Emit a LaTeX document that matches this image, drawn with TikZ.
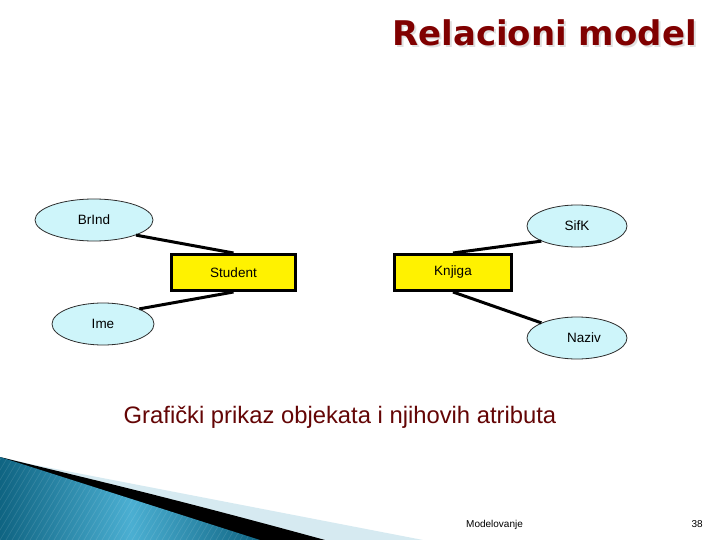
\documentclass[tikz,border=0pt]{standalone}
\usepackage{fontspec}
\setmainfont{Liberation Sans}
\newfontfamily\titlefont{DejaVu Sans}
\usetikzlibrary{shapes.geometric}
\definecolor{titlered}{RGB}{128,0,0}
\definecolor{capred}{RGB}{100,5,5}
\definecolor{ellfill}{RGB}{206,245,250}
\definecolor{ellline}{RGB}{45,45,45}
\definecolor{tealdark}{RGB}{15,100,130}
\definecolor{teallight}{RGB}{75,175,210}
\definecolor{bandblue}{RGB}{214,234,241}
\newcommand{\senka}[1]{\rlap{\kern2pt\raisebox{-2pt}{\color{black!12}#1}}#1}
\tikzset{
  attr/.style={ellipse, draw=ellline, line width=0.8pt, fill=ellfill, inner sep=0pt, minimum height=42pt, font=\fontsize{13.5}{15}\selectfont},
  entity/.style={rectangle, draw=black, line width=3pt, fill=yellow, inner sep=0pt, minimum width=122pt, minimum height=36pt, font=\fontsize{13.5}{15}\selectfont},
  link/.style={line width=3pt, black}
}

\begin{document}
\begin{tikzpicture}[x=1pt, y=-1pt]
			%%%%% START %%%%%
			\useasboundingbox[fill=white] (0, 0) rectangle (720, 540);
			
			% naslov sa senkom
			\node (naslov)[anchor=base west, inner sep=0pt, text=titlered, font=\titlefont\bfseries\fontsize{34}{38}\selectfont] at (392, 46) {\senka{Relacioni model}};
			
			% entiteti
			\node (student)[entity, minimum width=124pt] at (233.5, 272.5) {Student};
			\node (knjiga)[entity, minimum width=117pt] at (453, 272.5) {Knjiga};
			
			% atributi
			\node (brind)[attr, minimum width=118pt] at (94, 220) {BrInd};
			\node (ime)[attr, minimum width=102pt] at (103, 324) {Ime};
			\node (sifk)[attr, minimum width=100pt] at (577, 226) {SifK};
			\node (naziv)[attr, minimum width=100pt] at (577, 338) {\hspace{14pt}Naziv};
			
			\draw[link] (brind.south east) -- (student.north);
			\draw[link] (ime.north east) -- (student.south);
			\draw[link] (sifk.south west) -- (knjiga.north);
			\draw[link] (naziv.north west) -- (knjiga.south);
			
			\node (opis)[anchor=base, inner sep=0pt, text=capred, font=\fontsize{23.8}{28}\selectfont] at (340, 423) {Grafički prikaz objekata i njihovih atributa};
			
			% ukras dole levo
			\fill[bandblue] (0, 457) -- (30, 464) -- (423, 540) -- (0, 540) -- cycle;
			\fill[black] (0, 457) .. controls (60, 472) and (150, 492) .. (325, 540) -- (0, 540) -- cycle;
			\begin{scope}
				\clip (0, 457) -- (260, 540) -- (0, 540) -- cycle;
				\shade[left color=tealdark, right color=tealdark, middle color=teallight] (0, 455) rectangle (262, 540);
				\foreach \i in {0, 6, ..., 330}
					\draw[white, opacity=0.12, line width=0.6pt] (\i - 60, 540) -- (\i, 440);
			\end{scope}
			
			\node (tema)[anchor=base west, inner sep=0pt, font=\fontsize{10}{12}\selectfont] at (466, 527) {Modelovanje};
			\node (strana)[anchor=base east, inner sep=0pt, font=\fontsize{10}{12}\selectfont] at (703, 527) {38};
			%%%%% END %%%%%
\end{tikzpicture}
\end{document}
